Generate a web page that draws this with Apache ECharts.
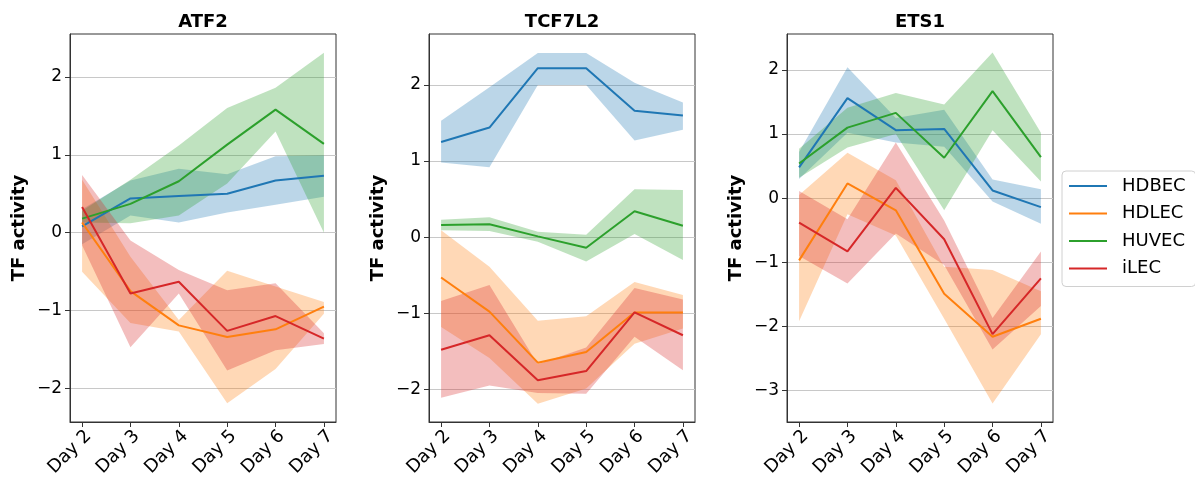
<!DOCTYPE html>
<html>
<head>
<meta charset="utf-8">
<title>TF activity</title>
<script src="https://cdn.jsdelivr.net/npm/echarts@6/dist/echarts.min.js"></script>
<style>
html, body { margin: 0; padding: 0; background: #fff; }
#chart { width: 1195px; height: 477px; }
</style>
</head>
<body>
<div id="chart"></div>
<script>
// 横轴: 天数
const days = [2, 3, 4, 5, 6, 7];
const cellTypes = ['HDBEC', 'HDLEC', 'HUVEC', 'iLEC'];
const colorArr = ['#1f77b4', '#ff7f0e', '#2ca02c', '#d62728'];

// 纵轴刻度
const yTicksATF2 = [-2, -1, 0, 1, 2];
const yTicksTCF7L2 = [-2, -1, 0, 1, 2];
const yTicksETS1 = [-3, -2, -1, 0, 1, 2];

// ATF2: 均值 / 下界 / 上界
const atf2HDBEC = [0.08, 0.44, 0.47, 0.50, 0.67, 0.73];
const atf2HDBECLow = [-0.15, 0.22, 0.13, 0.26, 0.36, 0.46];
const atf2HDBECHigh = [0.30, 0.67, 0.82, 0.75, 0.98, 0.99];
const atf2HDLEC = [0.13, -0.75, -1.19, -1.34, -1.24, -0.95];
const atf2HDLECLow = [-0.50, -1.16, -1.27, -2.19, -1.75, -1.04];
const atf2HDLECHigh = [0.68, -0.31, -1.12, -0.49, -0.69, -0.89];
const atf2HUVEC = [0.18, 0.37, 0.66, 1.13, 1.58, 1.14];
const atf2HUVECLow = [0.13, 0.12, 0.22, 0.63, 1.30, 0.0];
const atf2HUVECHigh = [0.28, 0.68, 1.12, 1.60, 1.86, 2.31];
const atf2iLEC = [0.33, -0.78, -0.63, -1.26, -1.07, -1.36];
const atf2iLECLow = [-0.16, -1.47, -0.78, -1.77, -1.51, -1.43];
const atf2iLECHigh = [0.74, -0.10, -0.48, -0.74, -0.65, -1.29];

// TCF7L2
const tcfHDBEC = [1.25, 1.44, 2.22, 2.22, 1.66, 1.60];
const tcfHDBECLow = [0.98, 0.92, 2.0, 2.0, 1.27, 1.41];
const tcfHDBECHigh = [1.53, 1.97, 2.42, 2.42, 2.03, 1.77];
const tcfHDLEC = [-0.53, -0.98, -1.65, -1.51, -0.99, -0.99];
const tcfHDLECLow = [-1.18, -1.59, -2.19, -1.99, -1.40, -1.20];
const tcfHDLECHigh = [0.09, -0.39, -1.10, -1.04, -0.59, -0.76];
const tcfHUVEC = [0.16, 0.17, 0.01, -0.14, 0.34, 0.15];
const tcfHUVECLow = [0.09, 0.08, -0.06, -0.32, 0.04, -0.30];
const tcfHUVECHigh = [0.23, 0.26, 0.07, 0.03, 0.63, 0.62];
const tcfiLEC = [-1.48, -1.29, -1.88, -1.76, -0.99, -1.29];
const tcfiLECLow = [-2.11, -1.95, -2.05, -2.06, -1.31, -1.75];
const tcfiLECHigh = [-0.84, -0.63, -1.67, -1.45, -0.67, -0.82];

// ETS1
const etsHDBEC = [0.48, 1.56, 1.06, 1.08, 0.12, -0.14];
const etsHDBECLow = [0.30, 1.02, 0.87, 0.80, -0.05, -0.40];
const etsHDBECHigh = [0.72, 2.04, 1.25, 1.38, 0.29, 0.14];
const etsHDLEC = [-0.97, 0.23, -0.19, -1.49, -2.16, -1.88];
const etsHDLECLow = [-1.92, -0.25, -0.58, -1.88, -3.20, -2.12];
const etsHDLECHigh = [0.05, 0.71, 0.28, -1.07, -1.12, -1.45];
const etsHUVEC = [0.54, 1.10, 1.33, 0.63, 1.67, 0.64];
const etsHUVECLow = [0.32, 0.79, 1.0, -0.19, 1.06, 0.26];
const etsHUVECHigh = [0.77, 1.41, 1.64, 1.46, 2.27, 1.02];
const etsiLEC = [-0.38, -0.83, 0.16, -0.64, -2.12, -1.25];
const etsiLECLow = [-0.90, -1.33, -0.55, -1.04, -2.36, -1.68];
const etsiLECHigh = [0.11, -0.33, 0.87, -0.35, -1.87, -0.83];

const panels = [
  {
    name: 'ATF2', ticks: yTicksATF2, range: [-2.43, 2.55], left: 70,
    mean: [atf2HDBEC, atf2HDLEC, atf2HUVEC, atf2iLEC],
    low: [atf2HDBECLow, atf2HDLECLow, atf2HUVECLow, atf2iLECLow],
    high: [atf2HDBECHigh, atf2HDLECHigh, atf2HUVECHigh, atf2iLECHigh]
  },
  {
    name: 'TCF7L2', ticks: yTicksTCF7L2, range: [-2.43, 2.67], left: 429,
    mean: [tcfHDBEC, tcfHDLEC, tcfHUVEC, tcfiLEC],
    low: [tcfHDBECLow, tcfHDLECLow, tcfHUVECLow, tcfiLECLow],
    high: [tcfHDBECHigh, tcfHDLECHigh, tcfHUVECHigh, tcfiLECHigh]
  },
  {
    name: 'ETS1', ticks: yTicksETS1, range: [-3.49, 2.56], left: 787,
    mean: [etsHDBEC, etsHDLEC, etsHUVEC, etsiLEC],
    low: [etsHDBECLow, etsHDLECLow, etsHUVECLow, etsiLECLow],
    high: [etsHDBECHigh, etsHDLECHigh, etsHUVECHigh, etsiLECHigh]
  }
];

const font = 'DejaVu Sans';
const gridWidth = 266;
const minus = v => (v < 0 ? '\u2212' + Math.abs(v) : String(v));

const chart = echarts.init(document.getElementById('chart'), null, { renderer: 'canvas' });

// 置信区间: 用坐标系把 [day, low, high] 画成一个多边形
function bandRenderer (color) {
  return function (params, api) {
    if (params.dataIndex !== 0) return null;
    const n = params.dataInsideLength;
    const upper = [];
    const lower = [];
    for (let j = 0; j < n; j++) {
      lower.push(api.coord([api.value(0, j), api.value(1, j)]));
      upper.push(api.coord([api.value(0, j), api.value(2, j)]));
    }
    return {
      type: 'polygon',
      shape: { points: lower.concat(upper.reverse()) },
      style: { fill: color, opacity: 0.3 },
      silent: true
    };
  };
}

const titles = [];
const grids = [];
const xAxes = [];
const yAxes = [];
const series = [];

panels.forEach((p, i) => {
  titles.push({
    text: p.name,
    left: p.left + gridWidth / 2,
    top: 13,
    padding: 0,
    textAlign: 'center',
    textStyle: { fontFamily: font, fontSize: 18, fontWeight: 'bold', color: '#000' }
  });
  grids.push({
    left: p.left, top: 34, width: gridWidth, height: 388,
    outerBoundsMode: 'none', containLabel: false,
    show: true, borderColor: '#333', borderWidth: 1, backgroundColor: '#fff'
  });
  xAxes.push({
    type: 'value', gridIndex: i, min: 1.75, max: 7.25,
    axisLine: { show: true, onZero: false, lineStyle: { color: '#333' } },
    axisTick: { show: true, length: 5, customValues: days, lineStyle: { color: '#333' } },
    axisLabel: {
      customValues: days, rotate: 45, margin: 5, verticalAlign: 'top',
      fontFamily: font, fontSize: 18, color: '#000',
      formatter: v => 'Day ' + v
    },
    splitLine: { show: false }
  });
  yAxes.push({
    type: 'value', gridIndex: i, min: p.range[0], max: p.range[1],
    name: 'TF activity', nameLocation: 'middle', nameGap: 42,
    nameTextStyle: { fontFamily: font, fontSize: 18, fontWeight: 'bold', color: '#000' },
    axisLine: { show: true, lineStyle: { color: '#333' } },
    axisTick: { show: true, length: 5, customValues: p.ticks, lineStyle: { color: '#333' } },
    axisLabel: {
      customValues: p.ticks, margin: 8,
      fontFamily: font, fontSize: 17, color: '#000',
      formatter: minus
    },
    splitLine: { show: true, lineStyle: { color: '#c8c8c8', width: 1 } }
  });

  cellTypes.forEach((c, k) => {
    series.push({
      name: p.name + '-' + c + '-band', type: 'custom',
      xAxisIndex: i, yAxisIndex: i, z: 1, silent: true,
      renderItem: bandRenderer(colorArr[k]),
      encode: { x: 0, y: [1, 2] },
      data: days.map((d, j) => [d, p.low[k][j], p.high[k][j]])
    });
    series.push({
      name: c, type: 'line', xAxisIndex: i, yAxisIndex: i,
      symbol: 'none', z: 3,
      itemStyle: { color: colorArr[k] },
      lineStyle: { color: colorArr[k], width: 2 },
      data: days.map((d, j) => [d, p.mean[k][j]])
    });
  });
});

const option = {
  animation: false,
  backgroundColor: '#fff',
  title: titles,
  grid: grids,
  xAxis: xAxes,
  yAxis: yAxes,
  legend: {
    data: cellTypes,
    orient: 'vertical',
    left: 1062, top: 171,
    padding: [5, 10, 8, 7],
    itemWidth: 38, itemHeight: 2, itemGap: 7.5,
    icon: 'rect',
    borderColor: '#d0d0d0', borderWidth: 1, borderRadius: 4,
    backgroundColor: '#fff',
    textStyle: { fontFamily: font, fontSize: 18, color: '#000', lineHeight: 20, padding: [0, 0, 0, 10] }
  },
  series: series
};

chart.setOption(option);
</script>
</body>
</html>
